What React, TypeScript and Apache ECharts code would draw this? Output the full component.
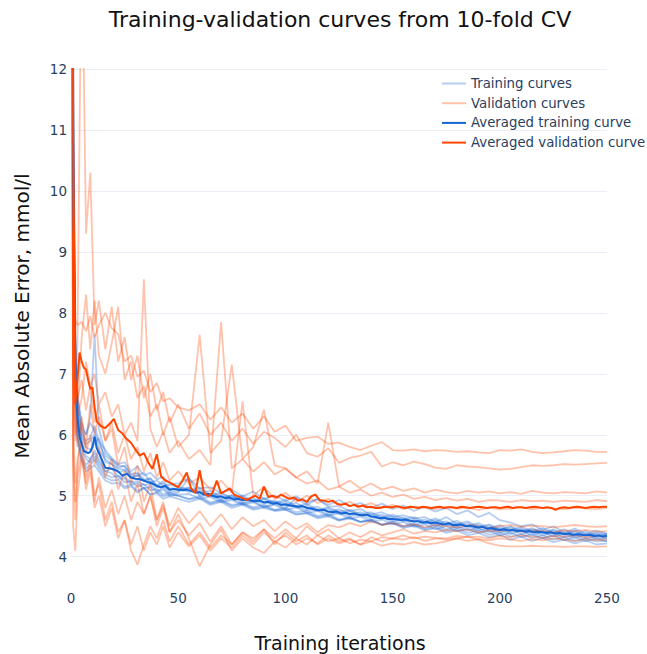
import React, { useEffect, useRef } from "react";
import * as echarts from "echarts";

// Iterations at which the individual fold curves were read
const GRID = [0,1,2,3,5,7,9,11,13,16, 19,22,25,28,31,34,37,40,43,46, 50,55,60,65,70,75,80,85,90,95,
  100,105,110,115,120,125,130,135,140,145, 150,155,160,165,170,175,180,185,190,195,
  200,205,210,215,220,225,230,235,240,245, 250];

const TRAIN_1 = [35,11,7.4,6.6,6.2,6.0,6.3,7.65,6.1,5.7, 5.6,5.5,5.48,5.36,5.38,5.27,5.28,5.17,5.24,5.12,
  5.12,5.06,5.1,4.99,5.03,4.95,4.98,4.9,4.94,4.88, 4.9,4.81,4.83,4.75,4.79,4.7,4.75,4.67,4.7,4.62,
  4.66,4.58,4.62,4.54,4.6,4.52,4.55,4.49,4.52,4.44, 4.48,4.41,4.46,4.39,4.43,4.37,4.4,4.34,4.38,4.33, 4.35];
const TRAIN_2 = [45,12.5,7.8,6.5,6.05,5.9,5.95,6.15,5.9,5.75, 5.62,5.52,5.55,5.4,5.48,5.33,5.38,5.27,5.31,5.2,
  5.2,5.28,5.12,5.14,5.05,5.1,4.99,5.07,4.95,5.0, 4.92,4.99,4.89,4.94,4.85,4.93,4.83,4.88,4.8,4.87,
  4.78,4.84,4.75,4.82,4.74,4.8,4.7,4.76,4.65,4.72, 4.6,4.56,4.5,4.53,4.44,4.5,4.4,4.46,4.38,4.43, 4.38];
const TRAIN_3 = [30,9.5,6.8,6.0,5.6,5.45,5.5,5.6,5.45,5.3, 5.25,5.26,5.15,5.18,5.08,5.13,5.02,5.06,4.99,5.02,
  5.0,4.94,4.97,4.87,4.92,4.83,4.87,4.79,4.82,4.76, 4.78,4.7,4.72,4.65,4.68,4.6,4.64,4.57,4.59,4.53,
  4.55,4.49,4.52,4.45,4.49,4.42,4.46,4.39,4.43,4.36, 4.4,4.33,4.37,4.31,4.35,4.28,4.32,4.26,4.3,4.25, 4.26];
const TRAIN_4 = [38,10.8,7.0,6.2,5.95,5.8,5.75,5.85,5.95,5.55, 5.52,5.38,5.42,5.29,5.33,5.24,5.23,5.14,5.16,5.06,
  5.08,5.13,5.02,5.03,4.94,5.01,4.89,4.93,4.87,4.89, 4.84,4.83,4.76,4.78,4.69,4.73,4.66,4.69,4.61,4.65,
  4.57,4.61,4.52,4.57,4.5,4.53,4.47,4.5,4.43,4.47, 4.39,4.45,4.37,4.41,4.35,4.39,4.32,4.36,4.3,4.33, 4.3];
const TRAIN_5 = [33,10,7.1,6.35,5.9,5.65,5.6,5.7,5.55,5.4, 5.45,5.32,5.31,5.22,5.24,5.18,5.19,5.08,5.13,5.03,
  5.05,5.3,4.99,5.01,4.92,4.95,4.87,4.91,4.82,4.87, 4.79,4.97,4.85,4.95,4.82,4.83,4.75,4.78,4.69,4.73,
  4.65,4.68,4.63,4.65,4.57,4.65,4.54,4.58,4.49,4.53, 4.45,4.5,4.42,4.47,4.4,4.45,4.37,4.43,4.35,4.4, 4.37];
const TRAIN_6 = [42,10.2,6.9,5.9,5.55,5.4,5.45,5.5,5.4,5.25, 5.2,5.21,5.12,5.15,5.05,5.13,5.02,5.04,4.95,4.99,
  4.95,4.9,4.95,4.85,4.9,4.8,4.85,4.77,4.8,4.75, 4.77,4.69,4.71,4.63,4.66,4.59,4.63,4.57,4.6,4.52,
  4.58,4.5,4.55,4.47,4.53,4.45,4.5,4.43,4.47,4.4, 4.45,4.37,4.43,4.35,4.4,4.33,4.38,4.3,4.36,4.29, 4.3];
const TRAIN_7 = [36,11.5,7.6,6.7,6.1,6.0,6.2,6.05,5.85,5.65, 5.58,5.46,5.49,5.34,5.36,5.24,5.29,5.16,5.21,5.1,
  5.12,5.13,5.05,5.08,4.97,5.0,4.92,4.96,4.89,4.92, 4.85,4.88,4.79,4.82,4.73,4.78,4.69,4.73,4.65,4.69,
  4.6,4.64,4.57,4.61,4.54,4.58,4.5,4.55,4.47,4.51, 4.43,4.48,4.41,4.45,4.39,4.43,4.36,4.41,4.34,4.38, 4.34];
const TRAIN_8 = [32,9.8,7.0,6.1,5.75,5.6,5.55,5.65,5.5,5.35, 5.3,5.33,5.22,5.24,5.15,5.19,5.09,5.11,5.02,5.05,
  5.0,4.95,4.99,4.89,4.93,4.85,4.88,4.81,4.85,4.77, 4.81,4.73,4.75,4.67,4.7,4.61,4.65,4.57,4.61,4.52,
  4.55,4.47,4.51,4.43,4.47,4.39,4.43,4.35,4.39,4.32, 4.36,4.28,4.33,4.26,4.31,4.24,4.28,4.22,4.27,4.2, 4.22];
const TRAIN_9 = [39,11.2,7.3,6.45,6.0,5.85,5.9,6.0,5.75,5.6, 5.52,5.44,5.43,5.31,5.33,5.38,5.22,5.25,5.17,5.18,
  5.15,5.09,5.13,5.02,5.05,4.97,5.0,4.92,4.96,4.89, 4.93,4.83,4.87,4.77,4.81,4.74,4.77,4.7,4.73,4.65,
  4.69,4.62,4.65,4.57,4.63,4.54,4.59,4.5,4.55,4.47, 4.52,4.44,4.49,4.42,4.47,4.39,4.45,4.37,4.42,4.35, 4.37];
const TRAIN_10 = [34,10.1,6.7,5.95,5.65,5.5,5.6,5.75,5.6,5.4, 5.37,5.28,5.28,5.18,5.21,5.12,5.15,5.06,5.1,5.0,
  5.02,5.03,4.95,4.98,4.89,4.93,4.85,4.89,4.81,4.85, 4.77,4.81,4.72,4.75,4.67,4.71,4.62,4.66,4.57,4.61,
  4.53,4.57,4.49,4.53,4.45,4.5,4.42,4.46,4.39,4.43, 4.35,4.4,4.32,4.37,4.3,4.35,4.27,4.33,4.25,4.3, 4.25];

const VAL_1 = [30,9.0,7.9,7.8,7.85,7.7,7.95,7.6,7.8,8.0, 7.75,7.65,7.2,7.3,6.95,7.05,6.7,6.85,6.55,6.6,
  6.45,6.4,6.5,6.25,6.45,6.2,6.35,6.1,6.3,6.05, 6.15,5.9,5.95,5.97,5.85,5.87,5.8,5.75,5.82,5.88,
  5.75,5.74,5.76,5.73,5.75,5.74,5.72,5.73,5.71,5.7, 5.75,5.74,5.76,5.72,5.7,5.71,5.73,5.75,5.74,5.72, 5.72];
const VAL_2 = [25,8.5,6.8,7.5,14.5,9.3,10.3,7.8,8.2,7.4, 8.1,7.2,7.6,6.9,7.3,6.6,7.0,6.4,6.7,6.2,
  6.5,6.1,6.35,6.0,6.2,5.9,6.1,5.85,6.05,5.95, 5.8,6.0,5.7,5.64,5.78,5.54,5.62,5.66,5.72,5.48,
  5.55,5.5,5.56,5.52,5.46,5.44,5.5,5.48,5.47,5.45, 5.43,5.44,5.47,5.5,5.49,5.5,5.52,5.51,5.52,5.53, 5.54];
const VAL_3 = [28,7.5,6.5,6.3,6.6,7.2,6.8,7.0,6.5,6.7, 6.3,6.5,6.0,6.2,5.9,8.55,6.1,5.8,6.05,5.7,
  5.9,5.6,5.75,5.5,7.85,5.45,5.6,5.4,5.55,5.35, 5.45,5.3,5.4,5.2,6.2,5.15,5.25,5.12,5.2,5.1,
  5.15,5.08,5.12,5.05,5.1,5.06,5.04,5.08,5.05,5.07, 5.04,5.06,5.03,5.08,5.05,5.04,5.06,5.05,5.04,5.07, 5.05];
const VAL_4 = [22,6.8,5.9,6.4,7.6,8.3,7.4,8.2,7.3,7.0, 7.5,8.1,6.9,7.2,6.6,6.8,6.3,6.5,6.0,6.3,
  5.8,6.0,7.64,5.7,5.9,7.15,5.6,5.8,6.41,5.5, 5.45,5.3,5.2,5.25,5.1,5.15,5.05,5.1,5.0,5.05,
  4.98,5.02,4.95,4.98,4.93,4.96,4.92,4.95,4.9,4.93, 4.92,4.9,4.93,4.91,4.92,4.9,4.92,4.91,4.9,4.93, 4.91];
const VAL_5 = [26,5.5,4.6,5.4,6.2,5.8,6.5,6.0,6.3,5.9, 6.2,5.7,6.0,5.6,5.8,5.4,5.7,5.3,5.55,5.25,
  5.4,5.2,5.3,5.1,5.25,5.05,6.55,5.0,5.15,4.95, 5.05,4.9,5.0,4.88,4.95,4.85,4.9,4.82,4.88,4.8,
  4.85,4.78,4.82,4.8,4.78,4.82,4.79,4.8,4.77,4.8, 4.78,4.79,4.81,4.78,4.8,4.79,4.78,4.8,4.79,4.78, 4.8];
const VAL_6 = [20,4.5,4.1,5.0,5.6,5.2,5.5,4.9,5.3,4.8, 5.1,4.7,5.0,4.6,4.9,4.7,5.0,4.6,4.85,4.5,
  4.8,4.55,4.75,4.5,4.7,4.45,4.65,4.5,4.6,4.42, 4.58,4.45,4.55,4.4,4.52,4.48,4.55,4.5,4.58,4.52,
  4.55,4.5,4.53,4.48,4.52,4.5,4.48,4.52,4.5,4.47, 4.5,4.52,4.49,4.51,4.5,4.48,4.5,4.52,4.5,4.49, 4.5];
const VAL_7 = [24,6.2,5.2,5.6,5.9,5.3,5.6,5.0,5.2,4.6, 4.9,4.4,4.6,4.1,3.87,4.2,4.5,4.3,4.6,4.25,
  4.5,4.2,4.4,4.15,4.35,4.2,4.4,4.25,4.45,4.3, 4.45,4.3,4.5,4.35,4.45,4.3,4.4,4.32,4.42,4.35,
  4.4,4.45,4.38,4.42,4.4,4.44,4.42,4.45,4.4,4.43, 4.42,4.44,4.41,4.43,4.42,4.4,4.43,4.42,4.44,4.41, 4.42];
const VAL_8 = [27,7.0,6.0,6.6,6.9,6.4,6.8,6.2,6.5,5.9, 6.1,5.5,5.8,5.2,5.5,4.9,5.2,4.6,4.9,4.4,
  4.7,4.3,3.84,4.2,4.45,4.1,4.3,4.15,4.06,4.25, 4.15,4.3,4.2,4.35,4.25,4.3,4.22,4.28,4.25,4.32,
  4.3,4.35,4.3,4.33,4.31,4.3,4.34,4.32,4.33,4.3, 4.34,4.32,4.35,4.33,4.31,4.34,4.33,4.35,4.32,4.34, 4.33];
const VAL_9 = [23,5.8,4.9,5.3,5.7,5.1,5.4,4.8,5.0,4.5, 4.8,4.3,4.6,4.2,4.5,4.1,4.4,4.2,4.5,4.15,
  4.4,4.17,4.35,4.1,4.3,4.15,4.35,4.2,4.4,4.25, 4.35,4.2,4.3,4.22,4.35,4.25,4.3,4.2,4.32,4.25,
  4.3,4.28,4.32,4.26,4.3,4.28,4.3,4.26,4.29,4.27, 4.3,4.28,4.26,4.29,4.27,4.3,4.28,4.26,4.29,4.27, 4.28];
const VAL_10 = [21,7.3,6.2,5.8,6.3,5.7,6.0,5.5,5.8,5.3, 5.6,5.1,5.4,4.9,5.2,4.7,5.0,4.5,4.8,4.4,
  4.6,4.35,4.55,4.25,4.5,4.2,4.4,4.3,4.45,4.2, 4.4,4.25,4.35,4.2,4.3,4.22,4.28,4.2,4.25,4.18,
  4.22,4.2,4.24,4.2,4.22,4.25,4.3,4.33,4.28,4.22, 4.18,4.17,4.17,4.18,4.17,4.17,4.16,4.17,4.17,4.16, 4.17];

// Iterations at which the averaged curves were read
const AVG_ITER = [0,1,2,3,4,5,6,7,8,9,10,11,12,
  14,16,18,20,22,24,26,28,30,32,34,36,38,40,42,44,46,48,50,
  52,54,56,58,60,62,64,66,68,70,72,74,76,78,80,82,84,86,88,90,92,94,96,98,100,102,104,106,108,110,
  112,114,116,118,120,122,124,126,128,130,132,134,136,138,140,142,144,146,148,150,152,154,156,158,160,162,164,166,168,170,
  172,174,176,178,180,182,184,186,188,190,192,194,196,198,200,202,204,206,208,210,212,214,216,218,220,222,224,226,228,230,
  232,234,236,238,240,242,244,246,248,250];

const AVG_TRAIN = [40,10.5,7.2,6.3,5.97,5.85,5.73,5.72,5.70,5.72,5.80,5.97,5.78,
  5.62,5.46,5.45,5.43,5.40,5.33,5.36,5.30,5.28,5.27,5.25,5.22,5.20,5.16,5.14,5.16,5.10,5.11,5.10,
  5.09,5.10,5.08,5.05,5.06,5.02,5.03,5.00,4.98,4.99,4.96,4.97,4.94,4.95,4.93,4.94,4.92,4.91,4.92,4.89,4.90,4.87,4.88,4.85,4.86,4.84,4.83,4.82,4.83,4.80,
  4.79,4.77,4.76,4.77,4.74,4.73,4.74,4.71,4.72,4.70,4.71,4.69,4.68,4.69,4.66,4.65,4.63,4.64,4.62,4.62,4.61,4.60,4.61,4.59,4.58,4.58,4.56,4.57,4.55,4.56,
  4.54,4.53,4.55,4.52,4.52,4.53,4.50,4.51,4.49,4.48,4.49,4.46,4.47,4.45,4.44,4.45,4.43,4.44,4.42,4.43,4.41,4.42,4.40,4.41,4.40,4.39,4.40,4.38,4.39,4.37,
  4.38,4.36,4.37,4.36,4.35,4.36,4.34,4.35,4.33,4.34];

const AVG_VAL = [40,11,6.5,6.9,7.35,7.2,7.1,7.07,6.90,6.75,6.78,6.45,6.22,
  6.14,6.11,6.18,6.26,6.08,6.02,5.93,5.87,5.76,5.66,5.70,5.55,5.44,5.68,5.32,5.25,5.22,5.18,5.14,
  5.25,5.38,5.12,5.05,5.42,5.05,4.99,5.05,5.25,5.04,5.08,5.12,5.02,4.99,4.96,4.93,4.97,5.00,4.95,5.15,4.98,5.00,4.97,5.02,4.98,4.95,4.97,4.92,4.94,4.90,
  4.99,5.02,4.93,4.92,4.90,4.92,4.87,4.85,4.87,4.83,4.85,4.82,4.84,4.81,4.82,4.80,4.80,4.82,4.81,4.81,4.83,4.81,4.80,4.82,4.81,4.80,4.82,4.81,4.80,4.81,
  4.82,4.80,4.81,4.81,4.80,4.82,4.81,4.80,4.81,4.82,4.81,4.80,4.81,4.81,4.80,4.81,4.82,4.80,4.81,4.81,4.80,4.81,4.82,4.81,4.80,4.81,4.80,4.77,4.80,4.81,
  4.80,4.81,4.82,4.81,4.80,4.81,4.82,4.81,4.82,4.82];

const Y_TICKS = [4, 5, 6, 7, 8, 9, 10, 11, 12];

const TRAIN_FOLDS = [TRAIN_1, TRAIN_2, TRAIN_3, TRAIN_4, TRAIN_5, TRAIN_6, TRAIN_7, TRAIN_8, TRAIN_9, TRAIN_10];
const VAL_FOLDS = [VAL_1, VAL_2, VAL_3, VAL_4, VAL_5, VAL_6, VAL_7, VAL_8, VAL_9, VAL_10];

const TRAIN_LIGHT = "rgba(21,101,212,0.32)";
const VAL_LIGHT = "rgba(255,69,0,0.33)";
const TRAIN_AVG = "#1565D4";
const VAL_AVG = "#FF4500";
const FONT = "DejaVu Sans, Verdana, sans-serif";

const pairs = (xs: number[], ys: number[]) => xs.map((x, i) => [x, ys[i]]);

export default function App() {
  const ref = useRef<HTMLDivElement>(null);
  useEffect(() => {
    if (!ref.current) return;
    const chart = echarts.init(ref.current, null, { renderer: "svg" });
    const series: any[] = [];
    TRAIN_FOLDS.forEach((arr, i) => {
      series.push({
        name: "Training curves", type: "line", data: pairs(GRID, arr), symbol: "none",
        lineStyle: { color: TRAIN_LIGHT, width: 1.8 }, itemStyle: { color: TRAIN_LIGHT },
        z: 2, silent: true,
        ...(i === 0 ? {
          markLine: {
            silent: true, symbol: "none", label: { show: false },
            lineStyle: { color: "#EBF0F8", width: 1, type: "solid" },
            data: Y_TICKS.map((v) => ({ yAxis: v })), z: 0,
          },
        } : {}),
      });
    });
    VAL_FOLDS.forEach((arr) => {
      series.push({
        name: "Validation curves", type: "line", data: pairs(GRID, arr), symbol: "none",
        lineStyle: { color: VAL_LIGHT, width: 1.8 }, itemStyle: { color: VAL_LIGHT },
        z: 3, silent: true,
      });
    });
    series.push({
      name: "Averaged training curve", type: "line", data: pairs(AVG_ITER, AVG_TRAIN), symbol: "none",
      lineStyle: { color: TRAIN_AVG, width: 2 }, itemStyle: { color: TRAIN_AVG }, z: 4,
    });
    series.push({
      name: "Averaged validation curve", type: "line", data: pairs(AVG_ITER, AVG_VAL), symbol: "none",
      lineStyle: { color: VAL_AVG, width: 2 }, itemStyle: { color: VAL_AVG }, z: 5,
    });

    chart.setOption({
      animation: false,
      backgroundColor: "#fff",
      grid: { left: 71, right: 40, top: 69, bottom: 79, containLabel: false },
      legend: {
        data: ["Training curves", "Validation curves", "Averaged training curve", "Averaged validation curve"],
        orient: "vertical", left: 437, top: 72, itemWidth: 24, itemHeight: 14, itemGap: 6.7,
        textStyle: { fontFamily: FONT, fontSize: 13.3, color: "#2a3f5f" },
        icon: "path://M0,6 L24,6 L24,8 L0,8 Z",
      },
      xAxis: {
        type: "value", min: 0, max: 250, interval: 50,
        axisLine: { show: false }, axisTick: { show: false }, splitLine: { show: false },
        axisLabel: { fontFamily: FONT, fontSize: 13.5, color: "#2a3f5f", margin: 16 },
      },
      yAxis: {
        type: "value", min: 3.7, max: 12,
        axisLine: { show: false }, axisTick: { show: false }, splitLine: { show: false },
        axisLabel: { fontFamily: FONT, fontSize: 13.5, color: "#2a3f5f", margin: 4, customValues: Y_TICKS },
      },
      graphic: [
        { type: "text", x: 340, y: 19, style: { text: "Training-validation curves from 10-fold CV", font: `22px ${FONT}`, fill: "#111", textAlign: "center", textVerticalAlign: "middle" } },
        { type: "text", x: 340, y: 643, style: { text: "Training iterations", font: `19px ${FONT}`, fill: "#111", textAlign: "center", textVerticalAlign: "middle" } },
        { type: "text", x: 22, y: 316, rotation: Math.PI / 2, style: { text: "Mean Absolute Error, mmol/l", font: `20px ${FONT}`, fill: "#111", textAlign: "center", textVerticalAlign: "middle" } },
      ],
      series,
    });
    return () => chart.dispose();
  }, []);
  return <div ref={ref} style={{ position: "fixed", left: 0, top: 0, width: 647, height: 654 }} />;
}
